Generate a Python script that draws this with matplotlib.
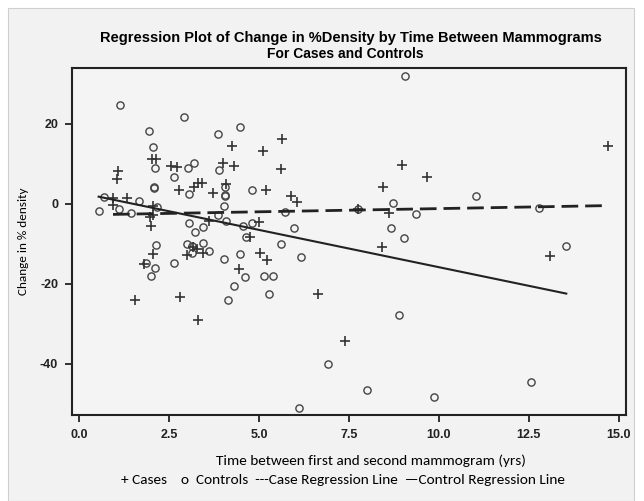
import numpy as np
import matplotlib
matplotlib.use('Agg')
import matplotlib.pyplot as plt
from matplotlib import patches

plt.rcParams['axes.unicode_minus'] = False

# Cases (+): time between mammograms (yrs), change in % density
case_x = [1.09, 1.05, 0.94, 0.94, 1.32, 2.02, 2.14, 2.05, 2.05, 1.97, 2.00, 2.56, 2.73,
          2.78, 3.18, 3.31, 3.41, 3.71, 3.99, 4.25, 4.31, 4.07, 3.62, 2.04, 1.79, 1.54,
          2.81, 3.31, 2.99, 3.43, 3.16, 3.27, 4.43, 4.75, 5.00, 5.03, 5.23, 6.06, 6.65,
          5.12, 5.64, 5.62, 5.19, 5.88, 7.74, 8.45, 8.60, 8.96, 9.66, 8.43, 7.38, 14.70,
          13.08]
case_y = [8.25, 6.25, 1.4, -0.25, 1.6, 11.25, 11.25, -0.5, -2.8, -3.3, -5.4, 9.5, 9.2,
          3.5, 4.2, 5.2, 5.3, 2.7, 10.2, 14.6, 9.6, 5.0, -4.2, -12.6, -15.1, -23.9,
          -23.2, -28.9, -12.8, -12.3, -10.7, -11.2, -16.3, -8.3, -4.4, -12.3, -14.0, 0.6,
          -22.6, 13.3, 16.2, 8.7, 3.4, 2.1, -1.3, 4.2, -2.3, 9.8, 6.7, -10.7, -34.2, 14.6,
          -12.9]

# Controls (o)
ctrl_x = [1.14, 0.54, 0.68, 1.12, 1.44, 1.65, 1.93, 2.06, 2.12, 2.07, 2.09, 2.17, 2.64,
          2.92, 3.02, 3.19, 3.06, 3.06, 3.23, 3.45, 3.86, 3.88, 4.05, 4.05, 4.03, 3.87,
          4.08, 4.47, 4.55, 4.81, 4.64, 2.14, 1.86, 2.12, 2.00, 2.64, 3.01, 3.13, 3.13,
          3.45, 3.62, 4.03, 4.47, 4.62, 4.31, 4.14, 4.80, 5.15, 5.40, 5.29, 5.61, 5.97,
          6.16, 5.72, 9.07, 7.74, 8.71, 9.35, 8.66, 9.04, 8.90, 6.91, 7.99, 6.11, 11.02,
          12.79, 13.54, 12.56, 9.87, 4.04]
ctrl_y = [24.75, -1.7, 1.7, -1.3, -2.3, 0.8, 18.25, 14.3, 8.9, 4.0, 4.2, -0.8, 6.7,
          21.7, 8.9, 10.2, 2.4, -4.7, -6.9, -5.8, 17.5, 8.4, 4.2, 2.25, -0.4, -2.75,
          -4.25, 19.2, -5.4, 3.4, -8.2, -10.3, -14.8, -15.9, -17.9, -14.7, -10.1, -10.5,
          -12.3, -9.8, -11.7, -13.7, -12.6, -18.3, -20.4, -23.9, -4.7, -18.0, -18.0,
          -22.5, -10.1, -5.9, -13.2, -1.9, 32.0, -1.3, 0.3, -2.6, -5.9, -8.4, -27.75,
          -40.0, -46.5, -50.9, 2.1, -0.9, -10.4, -44.6, -48.25, 2.0]

# regression lines (intercept, slope)
case_fit = [-2.75, 0.16]
ctrl_fit = [2.84, -1.864]

x_ticks = [0.0, 2.5, 5.0, 7.5, 10.0, 12.5, 15.0]
y_ticks = [20, 0, -20, -40]

narrow = ['Liberation Sans', 'DejaVu Sans']
body = ['Carlito', 'Lato', 'DejaVu Sans']

fig = plt.figure(figsize=(6.44, 5.01), dpi=100, facecolor='white')
# grey panel behind everything
bg = patches.Rectangle((8 / 644, 0), 626 / 644, 493 / 501, transform=fig.transFigure,
                       facecolor='#f2f2f2', edgecolor='#cfcfcf', linewidth=0.8, zorder=-5)
fig.patches.append(bg)

ax = fig.add_axes([72 / 644, 1 - 415 / 501, 554 / 644, 347 / 501])
ax.set_zorder(2)
ax.set_facecolor('#f4f4f4')

ax.plot(ctrl_x, ctrl_y, 'o', markersize=5.2, markerfacecolor='none',
        markeredgecolor='#444444', markeredgewidth=1.0)
ax.plot(case_x, case_y, '+', markersize=6.5, color='#333333', markeredgewidth=1.2)

cx = np.array([min(case_x), max(case_x)])
ax.plot(cx, case_fit[0] + case_fit[1] * cx, color='#222222', linewidth=2,
        dashes=(6, 2.5))
kx = np.array([min(ctrl_x), max(ctrl_x)])
ax.plot(kx, ctrl_fit[0] + ctrl_fit[1] * kx, color='#222222', linewidth=1.5)

ax.set_xlim(-0.2, 15.2)
ax.set_ylim(-52.75, 34)
ax.set_xticks(x_ticks)
ax.set_xticklabels(['%.1f' % t for t in x_ticks])
ax.set_yticks(y_ticks)
for s in ax.spines.values():
    s.set_linewidth(1.5)
    s.set_color('#222222')
ax.tick_params(direction='out', length=5, width=1.3, color='#222222', pad=5)
for lab in ax.get_xticklabels() + ax.get_yticklabels():
    lab.set_family(narrow)
    lab.set_fontweight('bold')
    lab.set_fontsize(9)
    lab.set_color('#222222')

ax.set_ylabel('Change in % density', family=body, fontsize=9.5, labelpad=8)

fig.text(351 / 644, 1 - 38 / 501, 'Regression Plot of Change in %Density by Time Between Mammograms',
         ha='center', va='center', family=narrow, fontweight='bold', fontsize=10.5)
fig.text(345 / 644, 1 - 54 / 501, 'For Cases and Controls', ha='center', va='center',
         family=narrow, fontweight='bold', fontsize=10)
fig.text(371 / 644, 1 - 461 / 501, 'Time between first and second mammogram (yrs)',
         ha='center', va='center', family=body, fontsize=11)
fig.text(343 / 644, 1 - 480 / 501,
         '+ Cases    o  Controls  ---Case Regression Line  \u2014Control Regression Line',
         ha='center', va='center', family=body, fontsize=11)

fig.savefig('out.png', dpi=100, facecolor=fig.get_facecolor())
